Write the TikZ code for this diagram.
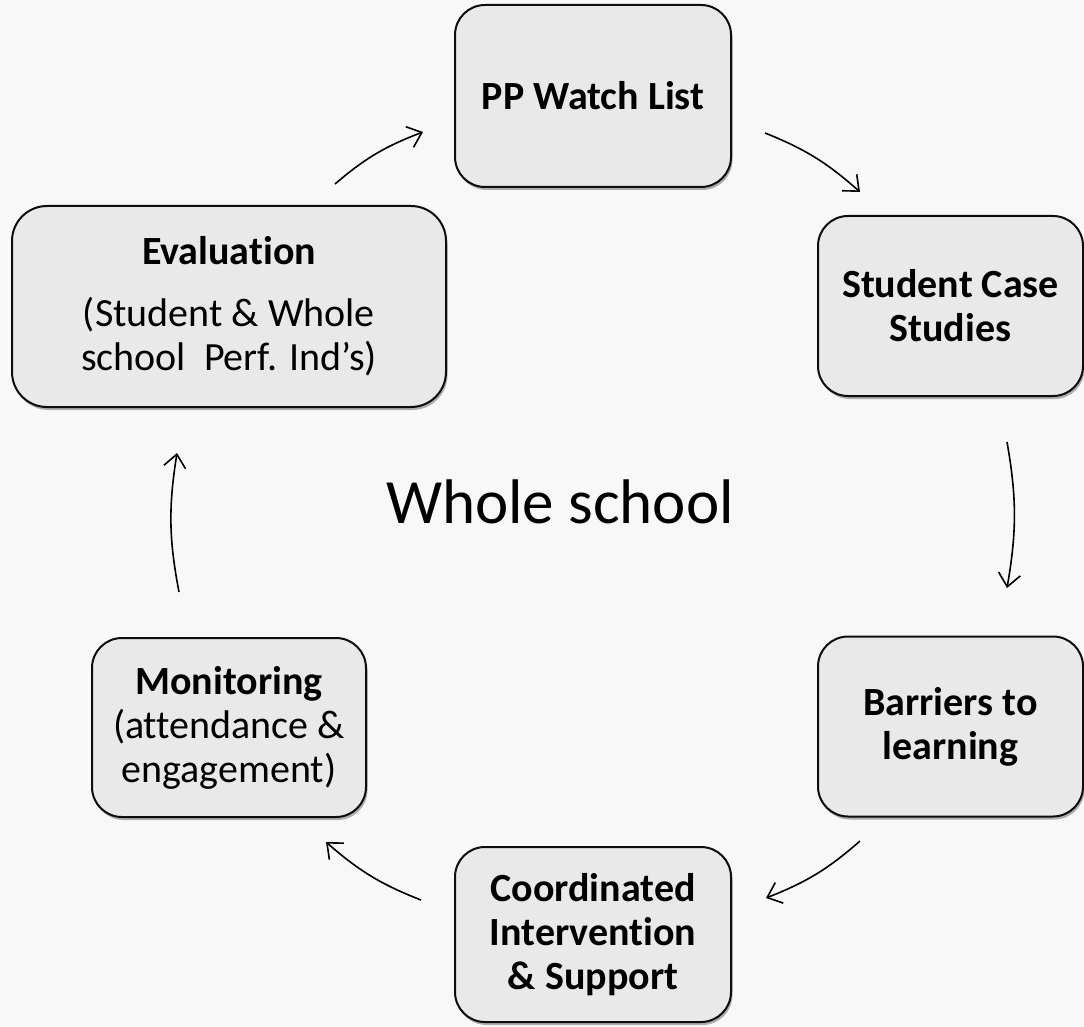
\documentclass[tikz,border=0pt]{standalone}
\usepackage{fontspec}
\setmainfont{Carlito}[Ligatures=NoCommon]
\usetikzlibrary{arrows.meta,shadows,bending}
\definecolor{bgcol}{HTML}{F8F8F8}
\definecolor{boxfill}{HTML}{E9E9E9}
\begin{document}
\begin{tikzpicture}[x=1pt,y=1pt,
  box/.style={draw=black!95, line width=2pt, fill=boxfill, rounded corners=30pt,
    align=center, inner sep=0pt, font=\fontsize{40}{44}\selectfont,
    drop shadow={shadow xshift=1.5pt, shadow yshift=-3pt, opacity=0.3, fill=black}},
  flow/.style={line width=1.6pt, -{Straight Barb[length=13pt,width=22pt,line width=1.6pt]}, bend left=10}]
\fill[bgcol] (0,0) rectangle (1084,-1027);
\useasboundingbox (0,0) rectangle (1084,-1027);

\node[box, minimum width=276pt, minimum height=182pt] (pp) at (593,-96) {\textbf{PP Watch List}};
\node[box, minimum width=434pt, minimum height=201pt, rounded corners=35pt] (ev) at (229,-306.5)
  {\textbf{Evaluation}\\[18pt](Student \& Whole\\school\ \ Perf. Ind’s)};
\node[box, minimum width=265pt, minimum height=180pt] (sc) at (950.5,-306) {\textbf{Student Case}\\\textbf{Studies}};
\node[box, minimum width=265pt, minimum height=180pt] (bl) at (950.5,-726.5) {\textbf{Barriers to}\\\textbf{learning}};
\node[box, minimum width=274pt, minimum height=179pt] (mo) at (229,-727.5) {\textbf{Monitoring}\\(attendance \&\\engagement)};
\node[box, minimum width=276pt, minimum height=175pt] (co) at (593,-934.5) {\textbf{Coordinated}\\\textbf{Intervention}\\\textbf{\& Support}};
\node (ws) at (560,-502) {\fontsize{63}{70}\selectfont Whole school};

\coordinate (a1s) at (335,-184);  \coordinate (a1e) at (423,-132);
\coordinate (a2s) at (765,-133);  \coordinate (a2e) at (860,-192);
\coordinate (a3s) at (1007,-442); \coordinate (a3e) at (1007,-588);
\coordinate (a4s) at (860,-841);  \coordinate (a4e) at (766,-898);
\coordinate (a5s) at (421,-900);  \coordinate (a5e) at (326,-842);
\coordinate (a6s) at (179,-592);  \coordinate (a6e) at (177,-453);

\draw[flow] (a1s) to (a1e);
\draw[flow] (a2s) to (a2e);
\draw[flow] (a3s) to (a3e);
\draw[flow] (a4s) to (a4e);
\draw[flow] (a5s) to (a5e);
\draw[flow] (a6s) to (a6e);
\end{tikzpicture}
\end{document}
